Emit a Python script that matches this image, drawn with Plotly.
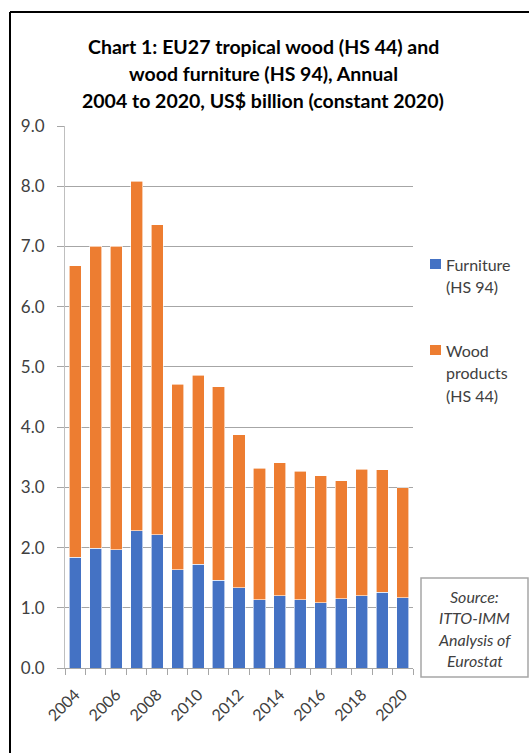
import plotly.graph_objects as go

years = list(range(2004, 2021))
# Totals (HS 44 + HS 94) and the furniture share, US$ billion (constant 2020)
total = [6.68, 7.00, 7.00, 8.08, 7.36, 4.71, 4.86, 4.67, 3.87, 3.32, 3.41, 3.27, 3.19, 3.11, 3.30, 3.29, 2.99]
furniture = [1.84, 1.99, 1.96, 2.28, 2.21, 1.63, 1.72, 1.46, 1.33, 1.13, 1.20, 1.13, 1.08, 1.15, 1.20, 1.26, 1.17]
wood = [round(t - f, 2) for t, f in zip(total, furniture)]
label_years = years[::2]

series_names = ["Furniture", "Wood products"]
legend_lines = [["Furniture", "(HS 94)"], ["Wood", "products", "(HS 44)"]]
colors = ["#4472C4", "#ED7D31"]
title_lines = [
    "Chart 1: EU27 tropical wood (HS 44) and",
    "wood furniture (HS 94), Annual",
    "2004 to 2020, US$ billion (constant 2020)",
]
source_text = ["Source:", "ITTO-IMM", "Analysis of", "Eurostat"]

FONT = "Lato"
W, H = 529, 753
L, R, T, B = 65, 116, 126, 85
pw, ph = W - L - R, H - T - B


def px_x(x):
    return (x - L) / pw


def px_y(y):
    return (H - B - y) / ph


fig = go.Figure()
for name, vals, col in zip(series_names, [furniture, wood], colors):
    fig.add_trace(go.Bar(x=years, y=vals, name=name, showlegend=False,
                         marker=dict(color=col, line=dict(color="#ffffff", width=0.6))))

fig.update_layout(
    width=W, height=H,
    margin=dict(l=L, r=R, t=T, b=B, autoexpand=False),
    paper_bgcolor="white", plot_bgcolor="white",
    barmode="stack", bargap=0.41,
    font=dict(family=FONT, color="#404040"),
    showlegend=False,
)

fig.update_xaxes(
    range=[2003.5, 2020.5],
    tickmode="array", tickvals=label_years, ticktext=[str(y) for y in label_years],
    tickangle=-45, ticks="",
    ticklabelstandoff=10,
    tickfont=dict(family=FONT, size=16, color="#404040"),
    showgrid=False, zeroline=False,
    showline=True, linecolor="#a6a6a6", linewidth=1,
    minor=dict(tick0=2003.5, dtick=1, ticks="outside", ticklen=6, tickcolor="#a6a6a6", showgrid=False),
)
fig.update_yaxes(
    range=[0, 9], dtick=1, tickformat=".1f",
    tickfont=dict(family=FONT, size=17, color="#404040"),
    ticklabelstandoff=9,
    showgrid=True, gridcolor="#a6a6a6", gridwidth=1,
    zeroline=False,
    showline=True, linecolor="#bfbfbf", linewidth=1,
    ticks="outside", ticklen=7, tickcolor="#a6a6a6",
)

# Title, one line per annotation
for text, yc in zip(title_lines, [46, 73, 100]):
    fig.add_annotation(xref="paper", yref="paper", x=px_x(263), y=px_y(yc),
                       xanchor="center", yanchor="middle", showarrow=False,
                       text=f"<b>{text}</b>",
                       font=dict(family=FONT, size=19.5, color="#000000"))

# Legend: colour squares with wrapped labels
legend_tops = [264, 350]
for lines, col, y0 in zip(legend_lines, colors, legend_tops):
    fig.add_shape(type="rect", xref="paper", yref="paper",
                  x0=px_x(430), x1=px_x(441), y0=px_y(y0 - 5), y1=px_y(y0 + 5),
                  fillcolor=col, line=dict(width=0))
    for i, line in enumerate(lines):
        fig.add_annotation(xref="paper", yref="paper", x=px_x(444), y=px_y(y0 + 22.5 * i),
                           xanchor="left", yanchor="middle", showarrow=False,
                           text=line, font=dict(family=FONT, size=16, color="#404040"))

# Chart border (left and top edges)
fig.add_shape(type="line", xref="paper", yref="paper",
              x0=px_x(10), x1=px_x(10), y0=px_y(12), y1=px_y(H + 5),
              line=dict(color="black", width=2))
fig.add_shape(type="line", xref="paper", yref="paper",
              x0=px_x(10), x1=px_x(W + 5), y0=px_y(12), y1=px_y(12),
              line=dict(color="black", width=2))

# Source box
fig.add_shape(type="rect", xref="paper", yref="paper",
              x0=px_x(421), x1=px_x(528), y0=px_y(578), y1=px_y(677),
              fillcolor="white", line=dict(color="#a6a6a6", width=1.5))
for i, line in enumerate(source_text):
    fig.add_annotation(xref="paper", yref="paper", x=px_x(474.5), y=px_y(596 + 21.5 * i),
                       xanchor="center", yanchor="middle", showarrow=False,
                       text=f"<i>{line}</i>",
                       font=dict(family=FONT, size=16, color="#404040"))

fig.write_html("out.html")
